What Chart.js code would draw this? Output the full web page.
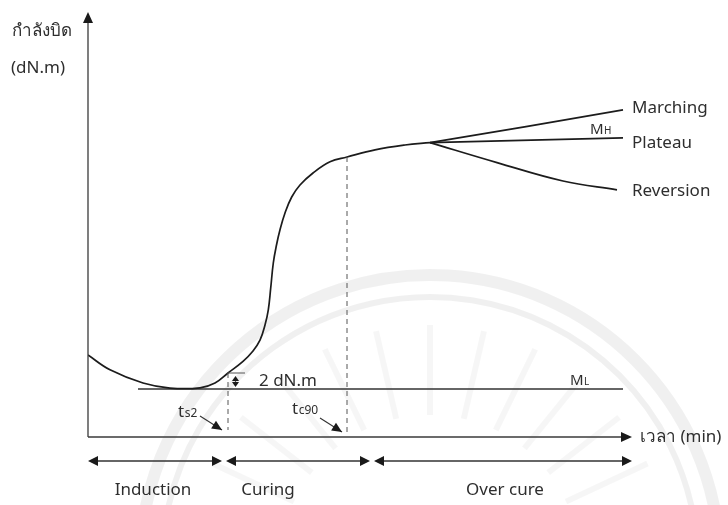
<!DOCTYPE html>
<html>
<head>
<meta charset="utf-8">
<script src="https://cdn.jsdelivr.net/npm/chart.js@4/dist/chart.umd.min.js"></script>
<style>
  html, body { margin: 0; padding: 0; background: #fff; }
  #wrap { width: 728px; height: 505px; position: relative; }
</style>
</head>
<body>
<div id="wrap"><canvas id="c" width="728" height="505"></canvas></div>
<script>
// Rheometer cure curve: time (min) vs torque (dN.m)
const cureTime   = [0, 1.1, 2.75, 4.1, 5.6, 6.35, 7.0, 7.75, 8.25, 8.6, 8.85, 9.015, 9.135, 9.265, 9.425, 9.6, 9.85, 10.185, 10.6, 11.25, 12.1, 12.95, 14.35, 15.85, 17.1];
const cureTorque = [10.25, 8.4, 6.75, 6.12, 6.15, 6.75, 8.0, 9.45, 10.75, 12.1, 14.0, 15.9, 18.6, 21.75, 24.0, 25.9, 28.0, 30.0, 31.5, 33.0, 34.4, 35.0, 35.9, 36.5, 36.8];

// Behaviour after the optimum cure
const marchingTime    = [17.1, 21.9, 26.75];
const marchingTorque  = [36.8, 38.8, 40.9];
const plateauTime     = [17.1, 26.75];
const plateauTorque   = [36.8, 37.4];
const reversionTime   = [17.1, 20.45, 23.75, 26.45];
const reversionTorque = [36.8, 34.3, 32.0, 30.9];

// Characteristic values
const ML = 6.0;          // minimum torque
const MH = 37.4;         // maximum torque (plateau)
const RISE = 2;          // scorch rise above ML, dN.m
const TS2 = 7.0;         // scorch time
const TC90 = 12.95;      // optimum cure time
const TC90_TORQUE = 35.0;
const mlLineTime = [2.5, 26.75];

// Stage boundaries along the time axis
const stageNames = ['Induction', 'Curing', 'Over cure'];
const stageStart = [0, 6.9, 14.3];
const stageEnd   = [6.7, 14.1, 27.2];

const pts = (xs, ys) => xs.map((v, i) => ({ x: v, y: ys[i] }));
const INK = '#1c1c1c';
const TEXT = '#2e2e2e';
const FONT = '"Noto Sans", "DejaVu Sans", sans-serif';

function arrowHead(ctx, x, y, ang, len, half) {
  ctx.save();
  ctx.translate(x, y);
  ctx.rotate(ang);
  ctx.beginPath();
  ctx.moveTo(0, 0);
  ctx.lineTo(-len, -half);
  ctx.lineTo(-len, half);
  ctx.closePath();
  ctx.fill();
  ctx.restore();
}
function seg(ctx, x1, y1, x2, y2) {
  ctx.beginPath(); ctx.moveTo(x1, y1); ctx.lineTo(x2, y2); ctx.stroke();
}
// Text with a smaller trailing part (subscript style)
function subText(ctx, main, sub, x, y, big, small, dy) {
  ctx.font = big + 'px ' + FONT;
  ctx.fillText(main, x, y);
  const w = ctx.measureText(main).width;
  ctx.font = small + 'px ' + FONT;
  ctx.fillText(sub, x + w + 0.5, y + dy);
}

const decor = {
  id: 'decor',
  beforeDraw(chart) {
    // faint seal in the background
    const ctx = chart.ctx;
    ctx.save();
    ctx.strokeStyle = 'rgba(0,0,0,0.06)';
    ctx.lineWidth = 12;
    ctx.beginPath(); ctx.arc(430, 565, 290, Math.PI * 1.02, Math.PI * 1.98); ctx.stroke();
    ctx.lineWidth = 6;
    ctx.beginPath(); ctx.arc(430, 565, 268, Math.PI * 1.05, Math.PI * 1.95); ctx.stroke();
    ctx.strokeStyle = 'rgba(0,0,0,0.035)';
    ctx.lineWidth = 6;
    for (let a = 205; a <= 335; a += 13) {
      const r = a * Math.PI / 180;
      seg(ctx, 430 + Math.cos(r) * 150, 565 + Math.sin(r) * 150, 430 + Math.cos(r) * 240, 565 + Math.sin(r) * 240);
    }
    ctx.restore();
  },
  afterDatasetsDraw(chart) {
    const { ctx, scales: { x, y } } = chart;
    const X = v => x.getPixelForValue(v);
    const Y = v => y.getPixelForValue(v);
    const x0 = X(0), y0 = Y(0);
    const xEnd = X(x.max), yTop = Y(y.max);
    ctx.save();

    // axes with arrow tips
    ctx.strokeStyle = '#3a3a3a';
    ctx.fillStyle = '#1a1a1a';
    ctx.lineWidth = 1.3;
    seg(ctx, x0, y0, x0, yTop + 8);
    arrowHead(ctx, x0, yTop, -Math.PI / 2, 11, 5);
    seg(ctx, x0, y0, xEnd - 8, y0);
    arrowHead(ctx, xEnd, y0, 0, 11, 5);

    // dashed markers for ts2 and tc90
    ctx.setLineDash([5, 4]);
    ctx.strokeStyle = '#555';
    ctx.lineWidth = 1;
    seg(ctx, X(TS2), Y(ML + RISE), X(TS2), y0 - 7);
    seg(ctx, X(TC90), Y(TC90_TORQUE), X(TC90), y0 - 4);
    ctx.setLineDash([]);

    // 2 dN.m rise tick and marker
    ctx.strokeStyle = '#555';
    ctx.lineWidth = 1;
    seg(ctx, X(TS2), Y(ML + RISE), X(TS2) + 17, Y(ML + RISE));
    const mx = X(TS2) + 7.5;
    const top = Y(ML + RISE) + 3, bot = Y(ML) - 2;
    ctx.fillStyle = '#1a1a1a';
    ctx.lineWidth = 1.2;
    seg(ctx, mx, top + 3, mx, bot - 3);
    arrowHead(ctx, mx, top, -Math.PI / 2, 5, 3.5);
    arrowHead(ctx, mx, bot, Math.PI / 2, 5, 3.5);

    // pointer arrows
    ctx.strokeStyle = '#333';
    ctx.lineWidth = 1.1;
    const p1 = [X(TS2) - 28, y0 - 21, X(TS2) - 6, y0 - 7];
    seg(ctx, p1[0], p1[1], p1[2], p1[3]);
    arrowHead(ctx, p1[2], p1[3], Math.atan2(p1[3] - p1[1], p1[2] - p1[0]), 10, 4.5);
    const p2 = [X(TC90) - 27, y0 - 19, X(TC90) - 5, y0 - 5];
    seg(ctx, p2[0], p2[1], p2[2], p2[3]);
    arrowHead(ctx, p2[2], p2[3], Math.atan2(p2[3] - p2[1], p2[2] - p2[0]), 10, 4.5);

    // stage arrows below the time axis
    ctx.strokeStyle = '#333';
    ctx.fillStyle = '#1a1a1a';
    ctx.lineWidth = 1.3;
    const sy = y0 + 24;
    stageNames.forEach((name, i) => {
      const a = X(stageStart[i]), b = X(stageEnd[i]);
      seg(ctx, a + 6, sy, b - 6, sy);
      arrowHead(ctx, a, sy, Math.PI, 10, 5);
      arrowHead(ctx, b, sy, 0, 10, 5);
    });

    // text
    ctx.fillStyle = TEXT;
    ctx.textBaseline = 'middle';
    ctx.textAlign = 'left';
    ctx.font = '17px ' + FONT;
    ctx.fillText('กำลังบิด', 12, 31);
    ctx.fillText('(dN.m)', 11, 68);
    ctx.fillText('เวลา (min)', xEnd + 8, y0);

    const endX = X(marchingTime[marchingTime.length - 1]) + 9;
    ctx.fillText('Marching', endX, Y(marchingTorque[marchingTorque.length - 1]) - 2);
    ctx.fillText('Plateau', endX, Y(MH) + 5);
    ctx.fillText('Reversion', endX, Y(reversionTorque[reversionTorque.length - 1]) + 1);

    ctx.textAlign = 'center';
    const centers = [153, 268, 505];
    stageNames.forEach((name, i) => ctx.fillText(name, centers[i], y0 + 53));

    ctx.textAlign = 'left';
    ctx.textBaseline = 'alphabetic';
    ctx.font = '17px ' + FONT;
    ctx.fillText('2 dN.m', X(TS2) + 31, Y(ML) - 3);
    subText(ctx, 'M', 'L', X(24.1), Y(ML) - 4, 15, 10, 0);
    subText(ctx, 'M', 'H', X(25.1), Y(MH) - 4, 15, 10, 0);
    subText(ctx, 't', 's2', X(TS2) - 50, y0 - 20, 17, 12, 0);
    subText(ctx, 't', 'c90', X(TC90) - 55, y0 - 23, 17, 12, 0);
    ctx.restore();
  }
};

const lineStyle = { borderColor: INK, borderWidth: 1.7, pointRadius: 0, fill: false, showLine: true };

new Chart(document.getElementById('c'), {
  type: 'scatter',
  data: {
    datasets: [
      { ...lineStyle, label: 'cure', data: pts(cureTime, cureTorque), tension: 0.4 },
      { ...lineStyle, label: 'Marching', data: pts(marchingTime, marchingTorque), tension: 0 },
      { ...lineStyle, label: 'Plateau', data: pts(plateauTime, plateauTorque), tension: 0 },
      { ...lineStyle, label: 'Reversion', data: pts(reversionTime, reversionTorque), tension: 0.4 },
      { ...lineStyle, label: 'ML', data: pts(mlLineTime, [ML, ML]), borderWidth: 1.3, borderColor: '#333' }
    ]
  },
  options: {
    responsive: false,
    animation: false,
    layout: { padding: { left: 88, right: 96, top: 12, bottom: 68 } },
    plugins: { legend: { display: false }, tooltip: { enabled: false } },
    scales: {
      x: { type: 'linear', min: 0, max: 27.2, display: false },
      y: { type: 'linear', min: 0, max: 53.125, display: false }
    }
  },
  plugins: [decor]
});
</script>
</body>
</html>
